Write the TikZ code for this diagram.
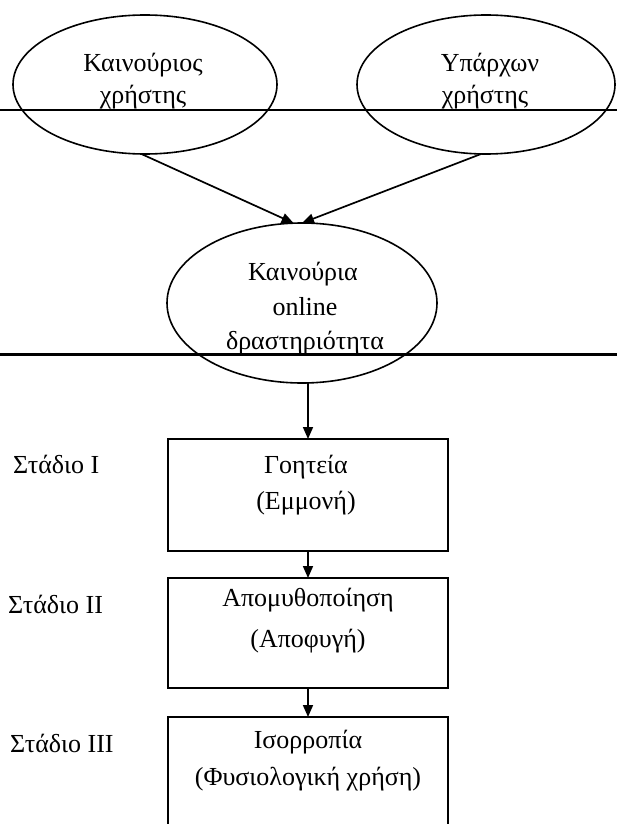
\documentclass[tikz,border=0pt]{standalone}
\usepackage{fontspec}
\setmainfont{Liberation Serif}
\usetikzlibrary{arrows.meta,shapes.geometric}
\begin{document}
\begin{tikzpicture}[x=1pt,y=-1pt,
  txt/.style={font=\fontsize{26}{30}\selectfont, inner sep=0pt, anchor=base},
  stage/.style={font=\fontsize{26}{30}\selectfont, inner sep=0pt, anchor=base west},
  ell/.style={draw, ellipse, line width=1.6pt, inner sep=0pt, outer sep=0pt},
  stepbox/.style={draw, rectangle, line width=2pt, inner sep=0pt, outer sep=0pt, minimum width=280pt},
  arr/.style={line width=1.7pt, -{Triangle[length=12pt,width=10pt]}},
  hline/.style={line width=2pt}]
\useasboundingbox (0,0) rectangle (617,824);
\clip (0,0) rectangle (617,824);
\fill[white] (0,0) rectangle (617,824);

% ellipses
\node[ell, minimum width=264pt, minimum height=139pt] (e1) at (145,84.5) {};
\node[ell, minimum width=258pt, minimum height=139pt] (e2) at (486,84.5) {};
\node[ell, minimum width=270pt, minimum height=160pt] (e3) at (302,303) {};

% horizontal rules
\draw[hline] (0,110) -- (617,110);
\draw[line width=3pt] (0,354) -- (617,354);

% ellipse texts
\node[txt] (k1) at (143,72) {Καινούριος};
\node[txt] (k2) at (143,103) {χρήστης};
\node[txt] (u1) at (490,72) {Υπάρχων};
\node[txt] (u2) at (485,103) {χρήστης};
\node[txt] (c1) at (303,280) {Καινούρια};
\node[txt] (c2) at (305,315) {online};
\node[txt] (c3) at (305,349) {δραστηριότητα};

% boxes
\node[stepbox, minimum height=112pt] (b1) at (308,495) {};
\node[stepbox, minimum height=110pt] (b2) at (308,633) {};
\node[stepbox, minimum height=140pt] (b3) at (308,787) {};

\node[txt] (g1) at (306,473) {Γοητεία};
\node[txt] (g2) at (306,509) {(Εμμονή)};
\node[txt] (a1) at (308,606) {Απομυθοποίηση};
\node[txt] (a2) at (308,647) {(Αποφυγή)};
\node[txt] (i1) at (308,748) {Ισορροπία};
\node[txt] (i2) at (308,785) {(Φυσιολογική χρήση)};

% stage labels
\node[stage] (s1) at (13,473) {Στάδιο I};
\node[stage] (s2) at (8,613) {Στάδιο II};
\node[stage] (s3) at (10,752) {Στάδιο III};

% connectors
\draw[arr] (e1.267) -- (e3.96);
\draw[arr] (e2.266) -- (e3.90);
\draw[arr] (e3.south -| b1.north) -- (b1.north);
\draw[arr] (b1.south) -- (b2.north);
\draw[arr] (b2.south) -- (b3.north);
\end{tikzpicture}
\end{document}
